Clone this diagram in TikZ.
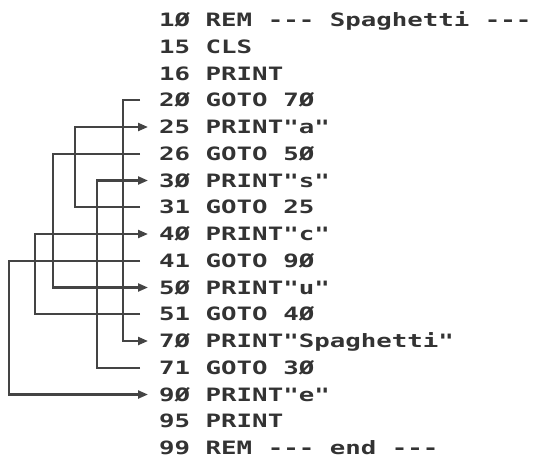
\documentclass[tikz,border=0pt]{standalone}
\usepackage{fontspec}
\usetikzlibrary{arrows.meta}
\newfontfamily\prtfont[FakeStretch=1.4,Ligatures=TeXOff]{DejaVu Sans Mono}
\definecolor{ink}{HTML}{333333}
\definecolor{wire}{HTML}{444444}
\tikzset{
  codeline/.style={anchor=base west, inner sep=0pt, text height=13.4pt, text depth=0pt,
    font=\prtfont\bfseries\fontsize{18.4}{20}\selectfont, text=ink},
  conn/.style={draw=wire, line width=2.2pt, line join=miter},
  jump/.style={conn, -{Triangle[length=10pt,width=8pt]}}
}
\begin{document}
\begin{tikzpicture}[x=1pt,y=-1pt]
\useasboundingbox (0,0) rectangle (543,459);
\foreach \i/\nm/\txt in {
  0/n10/{1Ø REM --- Spaghetti ---},
  1/n15/{15 CLS},
  2/n16/{16 PRINT},
  3/n20/{2Ø GOTO 7Ø},
  4/n25/{25 PRINT"a"},
  5/n26/{26 GOTO 5Ø},
  6/n30/{3Ø PRINT"s"},
  7/n31/{31 GOTO 25},
  8/n40/{4Ø PRINT"c"},
  9/n41/{41 GOTO 9Ø},
  10/n50/{5Ø PRINT"u"},
  11/n51/{51 GOTO 4Ø},
  12/n70/{7Ø PRINT"Spaghetti"},
  13/n71/{71 GOTO 3Ø},
  14/n90/{9Ø PRINT"e"},
  15/n95/{95 PRINT},
  16/n99/{99 REM --- end ---}}
  \node[codeline] (\nm) at (159, 20+26.75*\i+6.7) {\txt};
% GOTO connectors
\draw[jump] ([xshift=-19pt]n20.west) -- ([xshift=-36pt]n20.west) |- ([xshift=-11pt]n70.west);
\draw[jump] ([xshift=-19pt]n31.west) -- ([xshift=-84pt]n31.west) |- ([xshift=-11pt]n25.west);
\draw[jump] ([xshift=-19pt]n26.west) -- ([xshift=-106pt]n26.west) |- ([xshift=-11pt]n50.west);
\draw[jump] ([xshift=-19pt]n71.west) -- ([xshift=-62pt]n71.west) |- ([xshift=-11pt]n30.west);
\draw[jump] ([xshift=-19pt]n51.west) -- ([xshift=-124pt]n51.west) |- ([xshift=-11pt]n40.west);
\draw[jump] ([xshift=-19pt]n41.west) -- ([xshift=-150pt]n41.west) |- ([xshift=-11pt]n90.west);
\end{tikzpicture}
\end{document}
